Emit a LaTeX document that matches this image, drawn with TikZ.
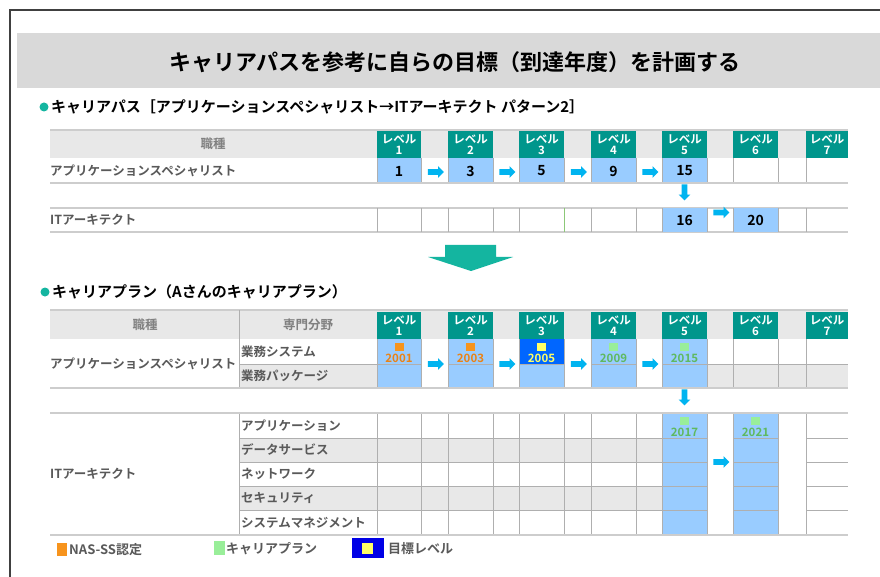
\documentclass[tikz,border=0pt]{standalone}
\usepackage{fontspec}
\usetikzlibrary{shapes.arrows}
\newfontfamily\jp{Noto Sans CJK JP}[BoldFont={Noto Sans CJK JP Bold}]
\definecolor{tealh}{RGB}{0,150,140}
\definecolor{cellblue}{RGB}{153,204,255}
\definecolor{goalblue}{RGB}{0,102,255}
\definecolor{hdrgray}{RGB}{232,232,232}
\definecolor{rowgray}{RGB}{232,232,232}
\definecolor{bandgray}{RGB}{217,217,217}
\definecolor{gridc}{RGB}{175,175,175}
\definecolor{outerc}{RGB}{205,205,205}
\definecolor{arrc}{RGB}{0,180,240}
\definecolor{bigarr}{RGB}{20,181,160}
\definecolor{txtgray}{RGB}{89,89,89}
\definecolor{hdrtxt}{RGB}{128,128,128}
\definecolor{orangeM}{RGB}{247,148,29}
\definecolor{orangeT}{RGB}{235,130,20}
\definecolor{yellowM}{RGB}{255,255,102}
\definecolor{greenM}{RGB}{153,238,153}
\definecolor{greenT}{RGB}{95,185,95}
\definecolor{legblue}{RGB}{0,0,230}
\definecolor{framec}{RGB}{64,64,64}
\definecolor{greenline}{RGB}{140,200,120}
\begin{document}
\begin{tikzpicture}[x=1pt,y=-1pt,
  lbl/.style={font=\jp\bfseries\fontsize{12.5}{14}\selectfont, text=txtgray, inner sep=0pt, anchor=west},
  hdr/.style={font=\jp\bfseries\fontsize{12.5}{14}\selectfont, text=hdrtxt, inner sep=0pt},
  lvl/.style={font=\jp\bfseries\fontsize{11.5}{11.5}\selectfont, text=white, align=center, inner sep=0pt},
  num/.style={font=\jp\bfseries\fontsize{14}{15}\selectfont, text=black, inner sep=0pt},
  yr/.style={font=\jp\bfseries\fontsize{11.5}{12}\selectfont, inner sep=0pt},
  sec/.style={font=\jp\bfseries\fontsize{15}{16}\selectfont, text=black, inner sep=0pt, anchor=west},
  leg/.style={font=\jp\bfseries\fontsize{13}{15}\selectfont, text=txtgray, inner sep=0pt, anchor=west},
  grid/.style={draw=gridc, line width=0.8pt},
  outer/.style={draw=outerc, line width=1.8pt},
  rarr/.style={single arrow, fill=arrc, draw=none, inner xsep=0pt, inner ysep=2.6pt, minimum height=16pt, single arrow head extend=3pt, single arrow head indent=0pt},
  darr/.style={rarr, rotate=-90}
]
\useasboundingbox (0,0) rectangle (880,577);
\fill[white] (0,0) rectangle (880,577);
% frame and title band
\draw[framec, line width=1.5pt] (10,577) -- (10,10) -- (880,10);
\fill[bandgray] (17,33) rectangle (880,88);
\node[font=\jp\bfseries\fontsize{22}{24}\selectfont, inner sep=0pt] (title) at (455,62) {キャリアパスを参考に自らの目標（到達年度）を計画する};

% ===== Section 1 =====
\fill[bigarr] (44,107) circle (4.5);
\node[sec] (s1) at (51,107) {キャリアパス［アプリケーションスペシャリスト→ITアーキテクト パターン2］};

\def\lvls{377/421,448/493,519/564,591/636,662/707,733/778,806/848}
% header
\fill[hdrgray] (50,130) rectangle (848,158);
\draw[outer] (50,130) -- (848,130);
\node[hdr] (t1h) at (213,144) {職種};
\foreach \l/\r [count=\i] in \lvls {
  \fill[tealh] (\l,131) rectangle (\r,158);
  \node[lvl] (t1l\i) at ({(\l+\r)/2},144.5) {レベル\\\i};
}
% row A
\node[lbl] (t1a) at (50,171) {アプリケーションスペシャリスト};
\foreach \l/\r/\n [count=\i] in {377/421/1,448/493/3,519/564/5,591/636/9,662/707/15} {
  \fill[cellblue] (\l,158) rectangle (\r,183);
  \draw[grid] (\l,158) -- (\l,183) (\r,158) -- (\r,183);
  \node[num] (t1n\i) at ({(\l+\r)/2},171) {\n};
}
\draw[grid] (733,158) -- (733,183) (778,158) -- (778,183) (806,158) -- (806,183);
\draw[outer] (50,183) -- (848,183);
\foreach \x [count=\i] in {434.5,506,577.5,649} \node[rarr] (t1r\i) at (\x,172) {};
\node[darr] (t1d) at (684.5,191) {};
% row B
\draw[outer] (50,208) -- (848,208) (50,232) -- (848,232);
\node[lbl] (t1b) at (50,220) {ITアーキテクト};
\fill[cellblue] (662,208) rectangle (707,232);
\fill[cellblue] (733,208) rectangle (778,232);
\foreach \x in {377,421,448,493,519,591,636,662,707,733,778,806} \draw[grid] (\x,208) -- (\x,232);
\draw[greenline, line width=0.7pt] (564,208) -- (564,232);
\node[num] (t1n6) at (684.5,220) {16};
\node[num] (t1n7) at (755.5,220) {20};
\node[rarr] (t1r5) at (720,212.5) {};

% big arrow
\fill[bigarr] (445,245) -- (496,245) -- (496,257) -- (513,257) -- (471,271) -- (428,257) -- (445,257) -- cycle;

% ===== Section 2 =====
\fill[bigarr] (45,292) circle (4.5);
\node[sec] (s2) at (52,292) {キャリアプラン（Aさんのキャリアプラン）};

% header
\fill[hdrgray] (50,310) rectangle (848,339);
\draw[outer] (50,310) -- (848,310);
\node[hdr] (t2h1) at (145,325) {職種};
\node[hdr] (t2h2) at (308,325) {専門分野};
\foreach \l/\r [count=\i] in \lvls {
  \fill[tealh] (\l,312) rectangle (\r,339);
  \node[lvl] (t2l\i) at ({(\l+\r)/2},325.5) {レベル\\\i};
}
% application specialist rows
\fill[rowgray] (239,364) rectangle (377,388);
\fill[rowgray] (707,364) rectangle (848,388);
\foreach \l/\r in {377/421,448/493,519/564,591/636,662/707} {
  \fill[cellblue] (\l,339) rectangle (\r,388);
}
\fill[goalblue] (519,339) rectangle (564,364);
\foreach \l/\r in {377/421,448/493,519/564,591/636,662/707} {
  \draw[grid] (\l,364) -- (\r,364);
  \draw[grid] (\l,339) -- (\l,388) (\r,339) -- (\r,388);
}
\draw[grid] (239,310) -- (239,388) (239,364) -- (377,364) (707,364) -- (848,364);
\draw[grid] (733,339) -- (733,388) (778,339) -- (778,388) (806,339) -- (806,388);
\draw[outer] (50,388) -- (848,388);
\node[lbl] (t2a) at (50,364) {アプリケーションスペシャリスト};
\node[lbl] (t2a1) at (241,351.5) {業務システム};
\node[lbl] (t2a2) at (241,376) {業務パッケージ};
% markers
\foreach \c/\mc/\tc/\y [count=\i] in {399/orangeM/orangeT/2001,470.5/orangeM/orangeT/2003,541.5/yellowM/yellowM/2005,613.5/greenM/greenT/2009,684.5/greenM/greenT/2015} {
  \fill[\mc] ({\c-4.5},343) rectangle ({\c+4.5},351);
  \node[yr, text=\tc] (t2y\i) at (\c,358.5) {\y};
}
\foreach \x [count=\i] in {434.5,506,577.5,649} \node[rarr] (t2r\i) at (\x,364) {};
\node[darr] (t2d) at (684.5,396) {};

% IT architect rows
\foreach \ya/\yb in {438/462,486/510} \fill[rowgray] (239,\ya) rectangle (662,\yb);
\fill[cellblue] (662,413) rectangle (707,535);
\fill[cellblue] (733,413) rectangle (778,535);
\foreach \y in {438,462,486,510} \draw[grid] (239,\y) -- (707,\y) (733,\y) -- (778,\y) (806,\y) -- (848,\y);
\foreach \x in {239,377,421,448,493,519,564,591,636,662,707,733,778,806} \draw[grid] (\x,413) -- (\x,535);
\draw[outer] (50,413) -- (848,413) (50,535) -- (848,535);
\node[lbl] (t2b) at (50,474) {ITアーキテクト};
\node[lbl] (t2b1) at (241,425.5) {アプリケーション};
\node[lbl] (t2b2) at (241,450) {データサービス};
\node[lbl] (t2b3) at (241,474) {ネットワーク};
\node[lbl] (t2b4) at (241,498) {セキュリティ};
\node[lbl] (t2b5) at (241,522.5) {システムマネジメント};
\foreach \c/\y [count=\i] in {684.5/2017,755.5/2021} {
  \fill[greenM] ({\c-4.5},417) rectangle ({\c+4.5},425);
  \node[yr, text=greenT] (t2z\i) at (\c,432.5) {\y};
}
\node[rarr] (t2r5) at (720,462) {};

% legend
\fill[orangeM] (57,543) rectangle (67,556);
\node[leg] (lg1) at (69,549.5) {NAS-SS認定};
\fill[greenM] (214,541) rectangle (225,555);
\node[leg] (lg2) at (226,548.5) {キャリアプラン};
\fill[legblue] (352,538) rectangle (384,558);
\fill[yellowM] (362,543) rectangle (373,554);
\node[leg] (lg3) at (388,548.5) {目標レベル};
\end{tikzpicture}
\end{document}
